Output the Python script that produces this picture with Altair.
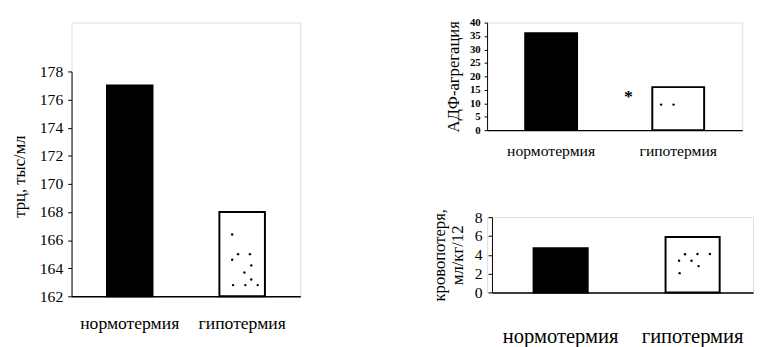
import altair as alt
import pandas as pd

FONT = "Liberation Serif, Times New Roman, serif"

categories = ["нормотермия", "гипотермия"]
bar_fills = ["black", "white"]

# Panel 1: тромбоциты
trc_values = [177, 168]
trc_ticks = [162, 164, 166, 168, 170, 172, 174, 176, 178]
trc_dot_pos = [0.28, 0.41, 0.67, 0.28, 0.70, 0.55, 0.70, 0.30, 0.57, 0.84]
trc_dot_val = [166.4, 165.0, 165.0, 164.6, 164.2, 163.7, 163.2, 162.8, 162.8, 162.8]

# Panel 2: АДФ-агрегация
adp_values = [36, 16]
adp_ticks = [0, 5, 10, 15, 20, 25, 30, 35, 40]
adp_dot_pos = [0.17, 0.41]
adp_dot_val = [9.5, 9.5]
adp_mark_cat = ["гипотермия"]
adp_mark_val = [10.5]
adp_mark_txt = ["*"]

# Panel 3: кровопотеря
blood_values = [4.7, 5.9]
blood_ticks = [0, 2, 4, 6, 8]
blood_dot_pos = [0.36, 0.59, 0.82, 0.25, 0.48, 0.61, 0.26]
blood_dot_val = [4.05, 4.08, 4.08, 3.36, 3.36, 2.8, 2.05]


def x_axis(size, pad):
    return alt.Axis(title=None, labelAngle=0, ticks=False, tickSize=0,
                    domainColor="black", domainWidth=1.5,
                    labelFont=FONT, labelFontSize=size, labelColor="black",
                    labelPadding=pad, labelBaseline="middle")


def y_axis(ticks, title, tick_size, pad, label_size, title_x, weight="normal",
           **extra):
    return alt.Axis(values=ticks, title=title, grid=False, labelOverlap=False,
                    domainColor="black", tickColor="black", tickSize=tick_size,
                    labelPadding=pad, labelFont=FONT, labelFontSize=label_size,
                    labelFontWeight=weight, labelColor="black",
                    titleFont=FONT, titleFontSize=17, titleFontWeight="normal",
                    titleColor="black", titleX=title_x, titleBaseline="middle",
                    titleAlign="center", **extra)


def dot_layer(pos, vals, y_enc, p_inner, p_outer, width, rng=None, align=0.5):
    """Stipple dots inside the hollow bar, on a linear scale in band-step units."""
    total = 2 - p_inner + 2 * p_outer
    start = align * 2 * p_outer + 1
    xs = [start + p * (1 - p_inner) for p in pos]
    df = pd.DataFrame({"x": xs, "v": vals})
    return alt.Chart(df).mark_circle(size=6, color="black", opacity=1).encode(
        x=alt.X("x:Q", axis=None,
                scale=alt.Scale(domain=[0, total], range=rng or [0, width],
                                nice=False, zero=False)),
        y=y_enc)


# ---------- left panel ----------
PI_L, PO_L = 0.595, 0.315
df_l = pd.DataFrame({"cat": categories, "v": trc_values, "f": bar_fills})
xl = alt.X("cat:N", sort=categories,
           scale=alt.Scale(paddingInner=PI_L, paddingOuter=PO_L),
           axis=x_axis(18, 28))
yl = alt.Y("v:Q",
           scale=alt.Scale(domain=[162, 178], range=[280, 50], zero=False, nice=False),
           axis=y_axis(trc_ticks, "трц, тыс/мл", 4, 5, 16, -53, titleY=157))
left_bars = alt.Chart(df_l).mark_bar(stroke="black", strokeWidth=2).encode(
    x=xl, y=yl, y2=alt.datum(162), fill=alt.Fill("f:N", scale=None))
left = alt.layer(
    left_bars, dot_layer(trc_dot_pos, trc_dot_val, yl, PI_L, PO_L, 234)
).resolve_scale(x="independent").properties(width=234, height=280)

# ---------- top right panel ----------
PI_T, PO_T = 0.592, 0.3
df_t = pd.DataFrame({"cat": categories, "v": adp_values, "f": bar_fills})
star_t = pd.DataFrame({"cat": adp_mark_cat, "v": adp_mark_val, "t": adp_mark_txt})
xt = alt.X("cat:N", sort=categories,
           scale=alt.Scale(paddingInner=PI_T, paddingOuter=PO_T),
           axis=x_axis(16, 21))
yt = alt.Y("v:Q", scale=alt.Scale(domain=[0, 40], nice=False),
           axis=y_axis(adp_ticks, "АДФ-агрегация", 3, 4, 11, -34, weight="bold"))
top_bars = alt.Chart(df_t).mark_bar(stroke="black", strokeWidth=2).encode(
    x=xt, y=yt, y2=alt.datum(0), fill=alt.Fill("f:N", scale=None))
top_star = alt.Chart(star_t).mark_text(dx=-51, baseline="alphabetic", font=FONT,
                                       fontSize=18, fontWeight="bold",
                                       color="black").encode(
    x=alt.X("cat:N", sort=categories), y=yt, text="t:N")
top = alt.layer(
    alt.layer(top_bars, top_star),
    dot_layer(adp_dot_pos, adp_dot_val, yt, PI_T, PO_T, 261)
).resolve_scale(x="independent").properties(width=261, height=110)

# ---------- bottom right panel ----------
PI_B, PO_B, AL_B = 0.59, 0.284, 0.555
B_RANGE = [5, 272]
df_b = pd.DataFrame({"cat": categories, "v": blood_values, "f": bar_fills})
xb = alt.X("cat:N", sort=categories,
           scale=alt.Scale(range=B_RANGE, paddingInner=PI_B, paddingOuter=PO_B,
                           align=AL_B),
           axis=x_axis(21, 45))
yb = alt.Y("v:Q", scale=alt.Scale(domain=[0, 8], nice=False),
           axis=y_axis(blood_ticks, ["кровопотеря,", "мл/кг/12"], 4, 6, 16, -54,
                       offset=-5, titleLineHeight=19))
bot_bars = alt.Chart(df_b).mark_bar(stroke="black", strokeWidth=2).encode(
    x=xb, y=yb, y2=alt.datum(0), fill=alt.Fill("f:N", scale=None))
bottom = alt.layer(
    bot_bars,
    dot_layer(blood_dot_pos, blood_dot_val, yb, PI_B, PO_B, 272, rng=B_RANGE,
              align=AL_B)
).resolve_scale(x="independent").properties(width=272, height=77)

right = alt.vconcat(top, bottom, spacing=89, bounds="flush")

chart = alt.hconcat(left, right, spacing=191, bounds="flush").properties(
    padding={"left": 2, "top": 4, "right": 0, "bottom": 0}
).configure_view(strokeWidth=0, stroke="transparent").configure(background="white")

chart.save("out.html", embed_options={"renderer": "svg", "actions": False})
